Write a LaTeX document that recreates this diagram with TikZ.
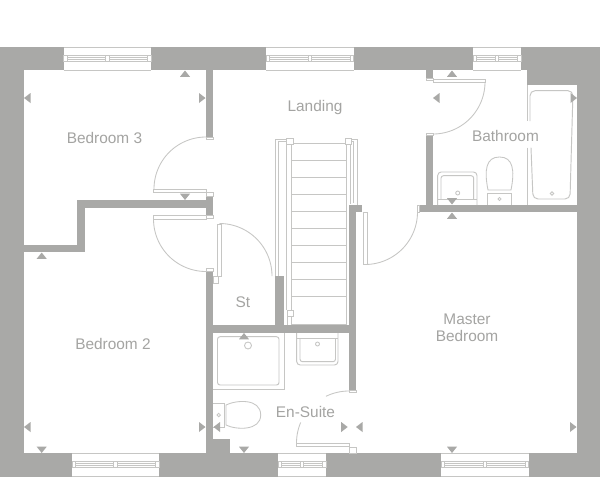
\documentclass[tikz,border=0pt]{standalone}
\usepackage{fontspec}
\setmainfont{Liberation Sans}
\definecolor{wallc}{HTML}{A9A9A7}
\definecolor{linec}{HTML}{C6C6C4}
\definecolor{textc}{HTML}{A4A4A2}
\tikzset{
  wall/.style={fill=wallc,draw=none},
  thin line/.style={draw=linec,line width=0.85pt},
  fixture/.style={draw=linec,line width=0.95pt,rounded corners=2.5pt},
  room/.style={text=textc,align=center,inner sep=0pt,font=\fontsize{15.4}{16.5}\selectfont},
  marker/.style={fill=wallc,draw=none},
}
\newcommand{\winrect}[4]{%
  \fill[white] (#1,#3) rectangle (#2,#4);
  \draw[thin line] (#1,#3) -- (#2,#3) (#1,#4) -- (#2,#4);
  \pgfmathsetmacro{\bt}{#3+8.3}
  \pgfmathsetmacro{\bb}{#3+14.7}
  \pgfmathsetmacro{\ba}{#3+10.5}
  \pgfmathsetmacro{\bc}{#3+12.5}
  \pgfmathsetmacro{\xm}{(#1+#2)/2}
  \draw[thin line] (#1,\bt) -- (#2,\bt) (#1,\bb) -- (#2,\bb);
  \draw[draw=linec,line width=0.6pt] (#1,\ba) -- (#2,\ba) (#1,\bc) -- (#2,\bc);
  \draw[thin line,fill=white] (#1,\bt) rectangle ++(3.5,6.4);
  \draw[thin line,fill=white] (#2,\bt) rectangle ++(-3.5,6.4);
  \draw[thin line,fill=white] (\xm-1.7,\bt) rectangle ++(3.4,6.4);
}
\newcommand{\doorarc}[5]{%
  \draw[thin line,domain=#4:#5,samples=40,smooth,variable=\t] plot ({#1+#3*cos(\t)},{#2-#3*sin(\t)});
}
\newcommand{\mup}[2]{\fill[marker] (#1,#2) -- (#1+5,#2+6.3) -- (#1-5,#2+6.3) -- cycle;}
\newcommand{\mdown}[2]{\fill[marker] (#1,#2) -- (#1+5,#2-6.3) -- (#1-5,#2-6.3) -- cycle;}
\newcommand{\mleft}[2]{\fill[marker] (#1,#2) -- (#1+6.5,#2-5) -- (#1+6.5,#2+5) -- cycle;}
\newcommand{\mright}[2]{\fill[marker] (#1,#2) -- (#1-6.5,#2-5) -- (#1-6.5,#2+5) -- cycle;}
\begin{document}
\begin{tikzpicture}[x=1pt,y=-1pt]
\useasboundingbox (0,0) rectangle (600,477);
\fill[white] (0,0) rectangle (600,477);
% outer walls
\fill[wall] (0,47) rectangle (600,70);
\fill[wall] (0,47) rectangle (23.5,477);
\fill[wall] (576.5,47) rectangle (600,477);
\fill[wall] (0,453) rectangle (600,477);
\fill[wall] (527,47) rectangle (600,85);
% inner walls
\fill[wall] (206,70) rectangle (213,137);
\fill[wall] (77,200) rectangle (213,208);
\fill[wall] (206,196) rectangle (213,215);
\fill[wall] (77,200) rectangle (84.5,252);
\fill[wall] (23.5,245) rectangle (84.5,252);
\fill[wall] (206,271) rectangle (213,453);
\fill[wall] (206,325) rectangle (356,333);
\fill[wall] (275,276) rectangle (283.5,325);
\fill[wall] (349,205) rectangle (356,390);
\fill[wall] (349,205) rectangle (362,212);
\fill[wall] (419,204.5) rectangle (577,212);
\fill[wall] (426,135) rectangle (433,205);
\fill[wall] (426,70) rectangle (433,78);
\fill[wall] (213,439) rectangle (230,453);
% windows
\winrect{63.5}{151}{47}{70}
\winrect{266}{353.5}{47}{70}
\winrect{473}{521}{47}{70}
\winrect{72}{159}{453}{476.5}
\winrect{278}{326}{453}{476.5}
\winrect{441}{528.5}{453}{476.5}
% jambs
\draw[thin line,fill=white] (206,137) rectangle (213,139.5);
\draw[thin line,fill=white] (206,192.5) rectangle (213,196);
\draw[thin line,fill=white] (206,215) rectangle (213,218.5);
\draw[thin line,fill=white] (206,268.5) rectangle (213,271);
\draw[thin line,fill=white] (426,78) rectangle (433,80);
\draw[thin line,fill=white] (426,133) rectangle (433,135);
\draw[thin line,fill=white] (349,390) rectangle (356,392.5);
\draw[thin line,fill=white] (349,447) rectangle (356,453);
\draw[thin line,fill=white] (417,205) rectangle (419.5,212);
% doors
\draw[thin line] (153.5,189) rectangle (206,192.7);
\doorarc{206}{189}{52}{90}{180}
\draw[thin line] (153.5,215.7) rectangle (206,219);
\doorarc{206}{219}{52.5}{180}{270}
\draw[thin line] (217.7,224) rectangle (221,276);
\draw[thin line] (213,276) rectangle (218,283);
\doorarc{219.5}{276}{52.5}{0}{90}
\draw[thin line] (433,79) rectangle (485,82);
\doorarc{433}{82}{52}{0}{-90}
\draw[thin line] (363.5,212) rectangle (367,264.5);
\doorarc{365}{212}{52.5}{-90}{0}
\draw[thin line] (296,443) rectangle (349,446.7);
\doorarc{349}{443}{52.5}{180}{157}
\doorarc{349}{443.5}{52.5}{116}{90}
% stairs, steps
\foreach \sy in {143.5,160.7,177.7,194.7,211.7,228.7,245.7,262.7,279.7,296.7}{
  \draw[thin line] (292,\sy) -- (347,\sy);
}
\draw[thin line] (292,324) -- (347,324);
\draw[thin line] (275.7,276) -- (275.7,139) -- (287,139);
\draw[thin line] (278,276) -- (278,141.5) -- (287,141.5);
\draw[thin line] (286.7,144) -- (286.7,310) (291.7,144) -- (291.7,310) (287,316) -- (287,325) (291.7,316) -- (291.7,325);
\draw[thin line] (346.7,144) -- (346.7,325);
\draw[thin line] (350,144) -- (350,204);
\draw[thin line] (353.5,141.5) -- (353.5,203) (357,139) -- (357,205);
\draw[thin line] (351,139) -- (357,139) (351,141.5) -- (353.5,141.5);
\draw[thin line,fill=white] (286.8,138) rectangle (293,144.5);
\draw[thin line,fill=white] (345,138) rectangle (351,144.5);
\draw[thin line,fill=white] (287,310) rectangle (293,316);
% shower
\draw[fixture] (217.5,336.7) rectangle (279,385);
\draw[thin line] (213,389.3) -- (284,389.3) -- (284,333);
\draw[thin line] (248,345.5) circle (3.5);
% en-suite basin
\draw[fixture,rounded corners=3.5pt] (296.7,333) -- (296.7,365) -- (338,365) -- (338,333);
\draw[fixture] (300,338) -- (300,361.7) -- (335.5,361.7) -- (335.5,338);
\draw[thin line] (296.7,338) -- (338,338);
\draw[thin line] (317.5,344) circle (2);
% en-suite wc
\draw[thin line] (213,403) -- (224,403) -- (224,427) -- (213,427);
\draw[thin line] (218.7,415) circle (1.7);
\draw[thin line] (226,405) .. controls (236,400) and (260.7,398) .. (260.7,415) .. controls (260.7,431) and (236,430) .. (226,425) -- cycle;
% bathroom basin
\draw[fixture,rounded corners=3.5pt] (437.7,205) -- (437.7,172) -- (477,172) -- (477,205);
\draw[fixture] (441,199) -- (441,175.7) -- (473.7,175.7) -- (473.7,199);
\draw[thin line] (437.7,199) -- (477,199);
\draw[thin line] (457.7,193) circle (2);
% bathroom wc
\draw[thin line] (488,190) .. controls (484,170) and (486,157) .. (499.5,157) .. controls (513,157) and (515,170) .. (511,190) -- cycle;
\draw[thin line] (487.7,205) -- (487.7,193) -- (511.7,193) -- (511.7,205);
\draw[thin line] (499.5,199) circle (1.6);
% bath
\draw[thin line] (527,85) -- (527,121) (527,147.7) -- (527,205);
\draw[fixture,rounded corners=5pt] (530,121) -- (530,90.7) -- (573,90.7) -- (570,199) -- (533,199) -- (531,147.7);
\draw[thin line] (552,193.5) circle (1.7);
% dimension markers
\mleft{24}{98}
\mright{205.5}{98}
\mup{185}{70.5}
\mdown{185}{200}
\mup{41.7}{252.5}
\mleft{24}{427}
\mright{205.5}{427}
\mdown{41.7}{453}
\mup{244}{333}
\mleft{213.5}{427}
\mdown{244}{453}
\mright{347.7}{427}
\mleft{356}{427}
\mright{576.5}{427}
\mdown{452}{453}
\mup{452}{212.5}
\mup{452}{70.5}
\mleft{433}{98}
\mright{577}{98}
\mdown{452}{204.5}
% labels
\node[room] (bed3) at (104.5,137.5) {Bedroom 3};
\node[room] (landing) at (315,108) {Landing};
\node[room] (bath) at (505.5,135.5) {Bathroom};
\node[room] (bed2) at (113,344) {Bedroom 2};
\node[room] (st) at (243,302.5) {St};
\node[room] (ensuite) at (305.5,412) {En-Suite};
\node[room] (master) at (467,328) {Master\\Bedroom};
\end{tikzpicture}
\end{document}
